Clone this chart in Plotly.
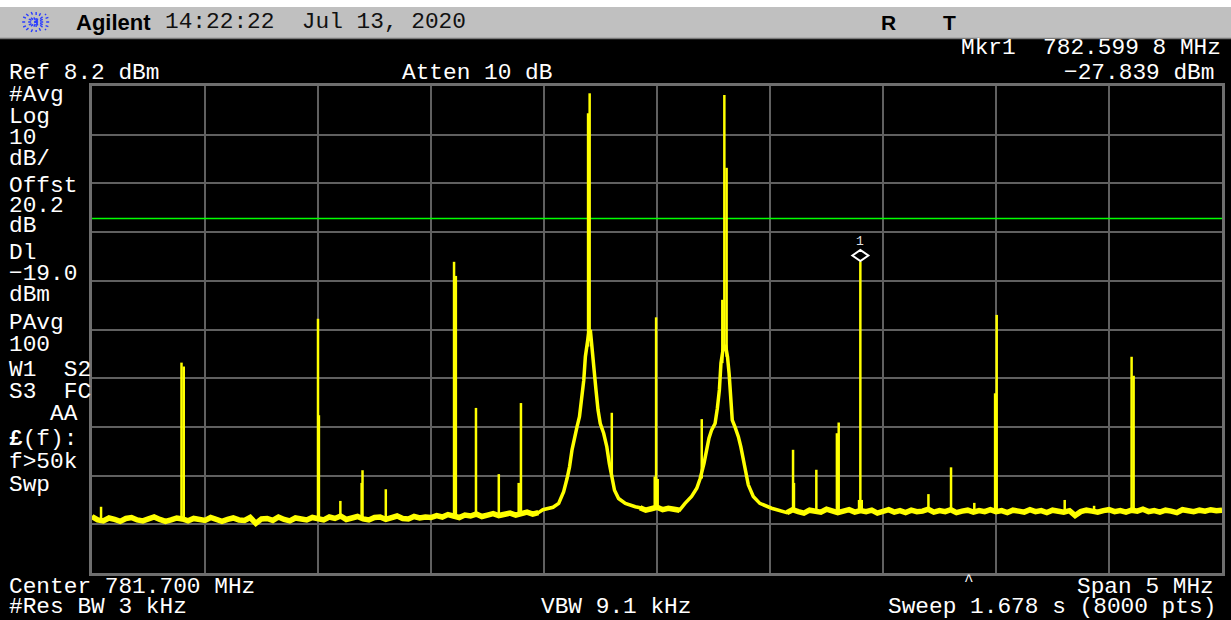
import numpy as np
import plotly.graph_objects as go

CENTER_MHZ = 781.7
SPAN_MHZ = 5.0
REF_DBM = 8.2
DB_PER_DIV = 10.0
DISPLAY_LINE_DBM = -19.0
MKR_FREQ = 782.5998
MKR_DBM = -27.839

# noise floor, evenly sampled every 25 kHz from the start frequency
FLOOR_START = 779.2
FLOOR_STEP = 0.025
FLOOR_DBM = [
    -80.2, -80.9, -81.1, -80.5, -80.8, -81.2, -80.6, -80.4, -80.9, -81.1, -80.7, -80.3, -80.8, -81.2, -80.9, -80.5, -80.7, -81.1, -80.6, -80.8,
    -81.0, -80.4, -80.7, -81.2, -80.8, -80.5, -80.9, -81.0, -80.4, -81.6, -80.7, -80.6, -81.0, -80.3, -80.8, -81.1, -80.5, -80.7, -80.9, -80.4,
    -80.7, -80.9, -80.3, -80.6, -80.1, -80.8, -80.5, -80.2, -80.7, -80.9, -80.4, -80.3, -80.8, -80.5, -80.1, -80.6, -80.7, -80.2, -80.5, -80.3,
    -80.4, -80.0, -80.3, -79.8, -80.2, -80.4, -79.9, -80.1, -79.7, -80.2, -79.9, -79.6, -80.0, -79.8, -79.5, -79.9, -79.6, -79.3, -79.7, -79.4,
    -79.2, -79.0, -78.9, -79.1, -78.8, -78.9, -78.7, -78.8, -78.6, -78.9, -78.7, -78.5, -78.8, -78.6, -78.7, -78.5, -78.8, -78.4, -78.9, -78.6,
    -78.3, -78.8, -78.5, -78.7, -78.9, -78.6, -78.8, -78.7, -78.9, -79.0, -78.8, -79.1, -78.9, -79.0, -79.2, -78.9, -79.1, -79.0, -79.2, -79.1,
    -79.0, -79.2, -79.1, -79.4, -78.8, -79.2, -79.5, -78.9, -79.1, -79.3, -78.7, -79.0, -79.4, -79.1, -78.8, -79.3, -79.0, -79.2, -78.9, -79.5,
    -79.1, -78.8, -79.3, -79.0, -79.4, -78.9, -79.2, -79.1, -78.7, -79.3, -79.0, -79.2, -78.8, -79.4, -79.1, -78.9, -79.3, -79.0, -79.2, -78.8,
    -79.2, -79.0, -79.4, -78.9, -79.1, -79.3, -78.8, -79.2, -79.0, -79.4, -78.9, -79.1, -79.3, -79.0, -80.0, -79.2, -78.9, -79.1, -79.3, -79.0,
    -78.8, -79.2, -79.0, -79.3, -78.9, -79.1, -78.7, -79.2, -79.0, -79.3, -78.9, -79.1, -79.4, -78.8, -79.0, -79.2, -78.9, -79.1, -78.8, -79.0, -78.9,
]

# skirts of the two main carriers
SKIRT_A_FREQ = [781.195, 781.240, 781.265, 781.287, 781.302, 781.313, 781.324, 781.335, 781.346, 781.357,
                781.365, 781.376, 781.383, 781.390, 781.398, 781.405, 781.420, 781.430, 781.439, 781.449,
                781.464, 781.478, 781.489, 781.500, 781.512, 781.530, 781.560, 781.604]
SKIRT_A_DBM = [-78.8, -78.3, -77.5, -75.1, -72.4, -70.0, -66.5, -63.8, -61.8, -59.7,
               -56.3, -52.2, -47.4, -45.3, -42.5, -41.9, -50.1, -54.2, -58.3, -61.1,
               -63.1, -65.9, -69.3, -72.0, -74.8, -76.5, -77.5, -78.2]
SKIRT_B_FREQ = [781.824, 781.853, 781.876, 781.891, 781.908, 781.920, 781.930, 781.942, 781.957, 781.967,
                781.976, 781.983, 781.992, 782.003, 782.012, 782.019, 782.026, 782.033, 782.045, 782.060,
                782.071, 782.082, 782.092, 782.104, 782.126, 782.155, 782.207, 782.266]
SKIRT_B_DBM = [-77.5, -76.1, -74.4, -72.4, -69.3, -66.5, -64.1, -62.4, -61.1, -58.0,
               -54.2, -48.7, -46.0, -45.0, -47.4, -50.8, -56.3, -60.4, -61.8, -63.8,
               -65.9, -68.6, -71.3, -73.7, -76.1, -77.5, -78.5, -79.2]

# discrete spurs / carriers: frequency, peak level, level at the foot
SPIKE_FREQ = [779.240, 779.596, 779.606, 780.200, 780.204, 780.299, 780.393, 780.397, 780.500,
              780.802, 780.810, 780.899, 781.000, 781.088, 781.098,
              781.395, 781.402, 781.500, 781.690, 781.696, 781.703, 781.898,
              781.989, 781.998, 782.008, 782.302, 782.306, 782.405, 782.496, 782.504,
              782.594, 782.5998, 782.606, 782.901, 783.001, 783.104, 783.196, 783.203,
              783.504, 783.634, 783.800, 783.809]
SPIKE_TOP_DBM = [-78.2, -48.6, -49.4, -39.6, -59.4, -77.0, -73.3, -70.7, -74.6,
                 -27.9, -30.8, -57.9, -71.5, -73.3, -56.9,
                 2.6, 6.7, -58.9, -72.0, -39.3, -72.5, -60.2,
                 -35.7, 6.35, -8.6, -66.5, -73.3, -70.6, -63.1, -60.9,
                 -76.8, -27.839, -76.8, -75.6, -70.1, -77.4, -54.9, -38.8,
                 -76.8, -78.0, -47.4, -51.3]
SPIKE_FOOT_DBM = [-80.8, -80.9, -80.9, -80.6, -80.6, -80.5, -80.3, -80.3, -80.3,
                  -79.8, -79.8, -79.8, -79.6, -79.4, -79.4,
                  -45.3, -41.9, -72.0, -78.6, -78.6, -78.6, -72.4,
                  -48.7, -46.0, -47.4, -79.1, -79.1, -79.1, -79.1, -79.1,
                  -79.1, -79.1, -79.1, -79.1, -79.1, -79.1, -79.1, -79.1,
                  -79.1, -79.1, -79.1, -79.1]

# ---------------- layout geometry ----------------
W, H = 1231, 620
PL, PR, PT, PB = 92, 1225, 86, 573   # plot area in pixels

def fx(px):
    return (px - PL) / (PR - PL)

def fy(py):
    return (PB - py) / (PB - PT)

f_lo = CENTER_MHZ - SPAN_MHZ / 2
f_hi = CENTER_MHZ + SPAN_MHZ / 2
y_hi = REF_DBM
y_lo = REF_DBM - 10 * DB_PER_DIV

YELLOW = "#ffff00"
GRID = "#606060"
MONO = "Liberation Mono, DejaVu Sans Mono, monospace"
SANS = "Liberation Sans, Arial, sans-serif"
FS = 22.8

# ---------------- build trace ----------------
floor_f = FLOOR_START + FLOOR_STEP * np.arange(len(FLOOR_DBM))
floor_v = np.array(FLOOR_DBM)
keep = ~(((floor_f >= min(SKIRT_A_FREQ)) & (floor_f <= max(SKIRT_A_FREQ))) |
         ((floor_f >= min(SKIRT_B_FREQ)) & (floor_f <= max(SKIRT_B_FREQ))))
tr_f = np.concatenate([floor_f[keep], SKIRT_A_FREQ, SKIRT_B_FREQ])
tr_v = np.concatenate([floor_v[keep], SKIRT_A_DBM, SKIRT_B_DBM])
order = np.argsort(tr_f)
tr_f, tr_v = tr_f[order], tr_v[order]

# floor-only segments (broken where the skirts are) for the thicker noise band
nf, nv = [], []
prev = None
for i in np.flatnonzero(keep):
    if prev is not None and i != prev + 1:
        nf.append(None)
        nv.append(None)
    nf.append(floor_f[i])
    nv.append(floor_v[i])
    prev = i

sx, sy = [], []
for f, top, foot in zip(SPIKE_FREQ, SPIKE_TOP_DBM, SPIKE_FOOT_DBM):
    sx += [f, f, None]
    sy += [foot, top, None]

fig = go.Figure()
fig.add_trace(go.Scatter(x=[f_lo, f_hi], y=[DISPLAY_LINE_DBM, DISPLAY_LINE_DBM], mode="lines",
                         line=dict(color="#00ff00", width=1.5), hoverinfo="skip"))
fig.add_trace(go.Scatter(x=tr_f, y=tr_v, mode="lines", line=dict(color=YELLOW, width=3.5), hoverinfo="skip"))
fig.add_trace(go.Scatter(x=nf, y=nv, mode="lines", line=dict(color=YELLOW, width=5.5), hoverinfo="skip",
                         connectgaps=False))
fig.add_trace(go.Scatter(x=sx, y=sy, mode="lines", line=dict(color=YELLOW, width=2.5), hoverinfo="skip"))

shapes = []
# top status bar
shapes.append(dict(type="rect", xref="paper", yref="paper", x0=fx(-5), x1=fx(W + 5), y0=fy(7), y1=fy(-5),
                   fillcolor="#ffffff", line=dict(width=0)))
shapes.append(dict(type="rect", xref="paper", yref="paper", x0=fx(-5), x1=fx(W + 5), y0=fy(38), y1=fy(7),
                   fillcolor="#c0c0c0", line=dict(width=0)))
shapes.append(dict(type="line", xref="paper", yref="paper", x0=fx(-5), x1=fx(W + 5), y0=fy(38.5), y1=fy(38.5),
                   line=dict(color="#7a7a7a", width=1.5)))
# Agilent starburst logo
cx, cy = 36, 22
for dx, dy in [(14, 0), (0, 10), (10, 8), (10, -8), (5, 10), (5, -10), (13, 5), (13, -5)]:
    shapes.append(dict(type="line", xref="paper", yref="paper",
                       x0=fx(cx - dx), x1=fx(cx + dx), y0=fy(cy - dy), y1=fy(cy + dy),
                       line=dict(color="#2a3cff", width=1.4, dash="dot")))
# marker diamond above the marker point
shapes.append(dict(type="path", xref="x", yref="y", xsizemode="pixel", ysizemode="pixel",
                   xanchor=MKR_FREQ, yanchor=MKR_DBM,
                   path="M -8,6 L 0,11.5 L 8,6 L 0,0.5 Z",
                   line=dict(color="#ffffff", width=2), fillcolor="rgba(0,0,0,0)"))

ann = []
def txt(t, px, py, anchor="left", size=FS, color="#ffffff", family=MONO):
    ann.append(dict(text=t, xref="paper", yref="paper", x=fx(px), y=fy(py), xanchor=anchor,
                    yanchor="middle", showarrow=False, font=dict(family=family, size=size, color=color)))

# top bar
txt("<b>Agilent</b>", 74, 22, size=22, color="#000000", family=SANS)
txt("14:22:22  Jul 13, 2020", 163, 22, color="#111111")
txt("<b>R</b>", 891, 22, anchor="center", size=21, color="#000000", family=SANS)
txt("<b>T</b>", 952, 22, anchor="center", size=21, color="#000000", family=SANS)

# header lines
txt("Mkr1  782.599 8 MHz", 1226, 48, anchor="right")
txt("Ref 8.2 dBm", 7, 73)
txt("Atten 10 dB", 401, 73)
txt("\u221227.839 dBm", 1219, 73, anchor="right")

# left status column
left_col = [("#Avg", 95), ("Log", 117), ("10", 138), ("dB/", 159), ("Offst", 186), ("20.2", 206),
            ("dB", 226), ("Dl", 253), ("\u221219.0", 274), ("dBm", 295), ("PAvg", 323), ("100", 345),
            ("W1  S2", 370), ("S3  FC", 392), ("   AA", 414), ("<b>£</b>(f):", 439), ("f>50k", 462), ("Swp", 485)]
for t, y in left_col:
    txt(t, 7, y)

# footer
txt("Center 781.700 MHz", 7, 587)
txt("#Res BW 3 kHz", 7, 607)
txt("VBW 9.1 kHz", 540, 607)
txt("Span 5 MHz", 1219, 587, anchor="right")
txt("Sweep 1.678 s (8000 pts)", 1221, 607, anchor="right")
txt("^", 971, 582, anchor="center", size=16)

# marker number
ann.append(dict(text="1", x=MKR_FREQ, y=MKR_DBM, xref="x", yref="y", yshift=20, showarrow=False,
                font=dict(family=MONO, size=13, color="#e0e0e0")))

fig.update_layout(
    width=W, height=H,
    margin=dict(l=PL, r=W - PR, t=PT, b=H - PB, pad=0),
    paper_bgcolor="#000000", plot_bgcolor="#000000",
    showlegend=False,
    shapes=shapes, annotations=ann,
    xaxis=dict(range=[f_lo, f_hi], tick0=f_lo, dtick=SPAN_MHZ / 10, showgrid=True, gridcolor=GRID, gridwidth=2,
               showticklabels=False, ticks="", zeroline=False, showline=True, mirror=True,
               linecolor="#6e6e6e", linewidth=3, fixedrange=True),
    yaxis=dict(range=[y_lo, y_hi], tick0=y_hi, dtick=DB_PER_DIV, showgrid=True, gridcolor=GRID, gridwidth=2,
               showticklabels=False, ticks="", zeroline=False, showline=True, mirror=True,
               linecolor="#6e6e6e", linewidth=3, fixedrange=True),
)

fig.write_html("out.html", config={"displayModeBar": False})
